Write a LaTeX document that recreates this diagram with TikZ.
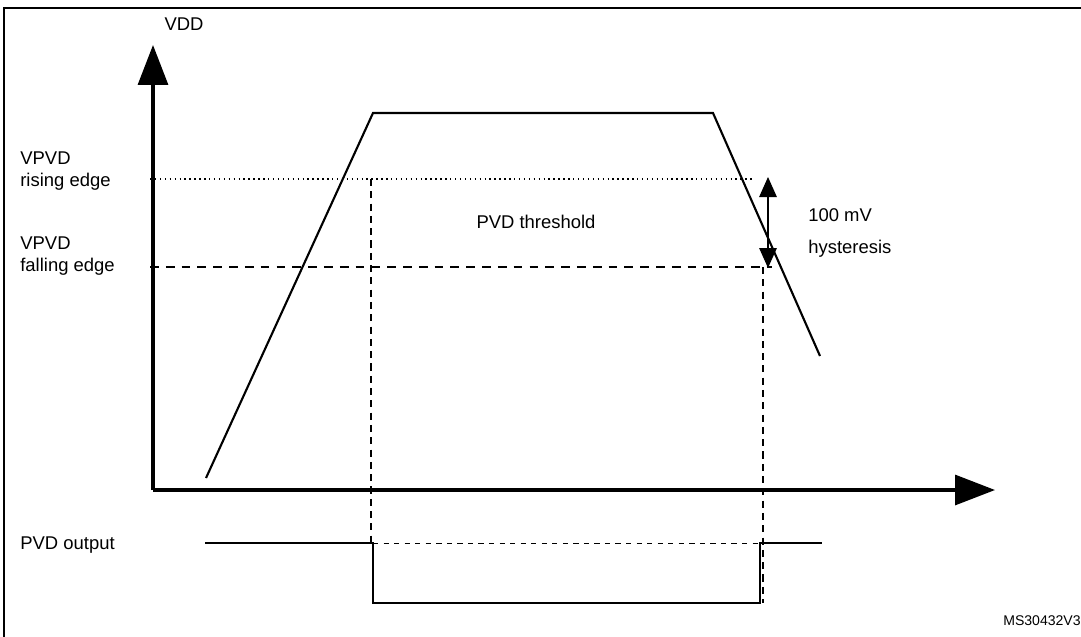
\documentclass[tikz,border=0pt]{standalone}
\usepackage{fontspec}
\setmainfont{Liberation Sans}
\usetikzlibrary{arrows.meta}
\tikzset{>={Triangle[width=6mm,length=8mm]}}
\tikzset{lbl/.style={font=\fontsize{10.5}{13}\selectfont, inner sep=0pt, align=left}}
\tikzset{sig/.style={draw=black, line width=1.2pt}}
\tikzset{guide/.style={draw=black, dashed, line width=0.6pt}}

\begin{document}
\begin{tikzpicture}[x=0.02cm, y=-0.02cm]
  \useasboundingbox (0,0) rectangle (1081,636);
    \clip (0,0) rectangle (1081,636);
    \draw[line width=1pt] (4,8) rectangle (1090,650);

    %%%% axes
    \coordinate (o) at (153,490);
    \coordinate (ytip) at (153,45);
    \coordinate (xtip) at (995,490);
    \draw[->, line width=1.8pt] (o) -- (ytip);
    \draw[->, line width=1.8pt] (o) -- (xtip);
    \node[lbl] (vdd) at (184,24) {VDD};

    %%%% VDD curve
    \coordinate (c0) at (206,478);
    \coordinate (c1) at (373,113);
    \coordinate (c2) at (713,113);
    \coordinate (c3) at (820,356);
    \draw[sig] (c0) -- (c1) -- (c2) -- (c3);

    %%%% thresholds
    \coordinate (r0) at (150,179);
    \coordinate (r1) at (752,179);
    \coordinate (f0) at (150,267);
    \coordinate (f1) at (772,267);
    \draw[draw=black, dotted, line width=0.8pt] (r0) -- (r1);
    \draw[guide, dash pattern=on 5pt off 4pt] (f0) -- (f1);
    \node[lbl, anchor=west] (rise) at (20,171) {VPVD\\rising edge};
    \node[lbl, anchor=west] (fall) at (20,256) {VPVD\\falling edge};
    \node[lbl] (thr) at (536,222) {PVD threshold};

    %%%% hysteresis
    \coordinate (h0) at (768,177);
    \coordinate (h1) at (768,268);
    \draw[<->, >={Triangle[width=3.5mm,length=4mm]}, line width=0.8pt] (h0) -- (h1);
    \node[lbl, anchor=west] (hys) at (808,233) {100 mV\\[2mm]hysteresis};

    %%%% PVD output
    \coordinate (p0) at (205,543);
    \coordinate (p1) at (373,543);
    \coordinate (p2) at (373,603);
    \coordinate (p3) at (760,603);
    \coordinate (p4) at (760,543);
    \coordinate (p5) at (822,543);
    \draw[sig] (p0) -- (p1) -- (p2) -- (p3) -- (p4) -- (p5);
    \draw[guide, line width=0.4pt] (p1) -- (p4);
    \node[lbl, anchor=west] (out) at (20,545) {PVD output};

    %%%% vertical guides
    \coordinate (v0) at (371,179);
    \coordinate (v1) at (371,543);
    \coordinate (w0) at (763,267);
    \coordinate (w1) at (763,603);
    \draw[guide, dash pattern=on 4pt off 3pt] (v0) -- (v1);
    \draw[guide, dash pattern=on 4pt off 3pt] (w0) -- (w1);

    \node[lbl, anchor=east] (ref) at (1081,621) {\fontsize{8}{9}\selectfont MS30432V3};
  \end{tikzpicture}
\end{document}
